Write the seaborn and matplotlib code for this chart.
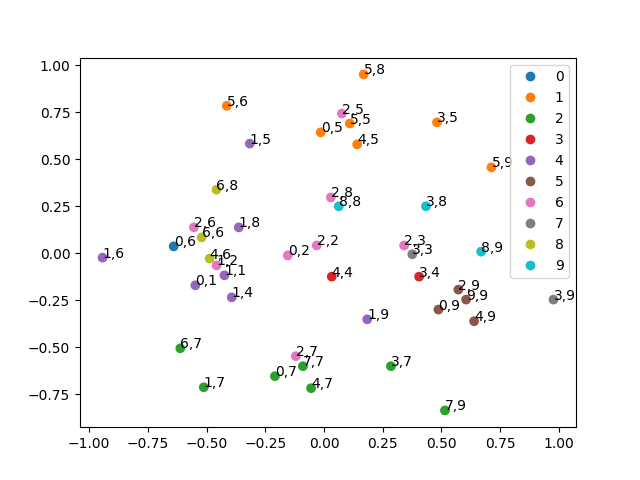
import matplotlib
matplotlib.use("Agg")
import matplotlib.pyplot as plt
import seaborn as sns
import pandas as pd

labels = ["5,8", "5,6", "2,5", "5,5", "0,5", "3,5", "4,5", "1,5", "5,9", "6,8",
          "2,8", "8,8", "3,8", "2,6", "1,8", "6,6", "0,6", "1,6", "2,2", "0,2",
          "2,3", "3,3", "8,9", "4,6", "1,2", "1,1", "4,4", "3,4", "0,1", "1,4",
          "2,9", "9,9", "3,9", "0,9", "4,9", "1,9", "6,7", "2,7", "7,7", "3,7",
          "0,7", "1,7", "4,7", "7,9"]
x_vals = [0.169, -0.414, 0.076, 0.110, -0.014, 0.481, 0.141, -0.316, 0.713, -0.458,
          0.029, 0.063, 0.434, -0.554, -0.363, -0.521, -0.640, -0.943, -0.031, -0.154,
          0.341, 0.376, 0.669, -0.487, -0.457, -0.424, 0.033, 0.405, -0.548, -0.393,
          0.572, 0.605, 0.977, 0.487, 0.639, 0.184, -0.612, -0.120, -0.090, 0.285,
          -0.209, -0.512, -0.055, 0.515]
y_vals = [0.951, 0.784, 0.743, 0.690, 0.643, 0.696, 0.579, 0.583, 0.457, 0.338,
          0.297, 0.250, 0.250, 0.138, 0.138, 0.085, 0.037, -0.023, 0.042, -0.011,
          0.042, -0.005, 0.009, -0.028, -0.064, -0.117, -0.124, -0.124, -0.170, -0.234,
          -0.193, -0.246, -0.246, -0.299, -0.361, -0.351, -0.505, -0.547, -0.600, -0.600,
          -0.653, -0.712, -0.717, -0.835]
groups = ["1", "1", "6", "1", "1", "1", "1", "4", "1", "8",
          "6", "9", "9", "6", "4", "8", "0", "4", "6", "6",
          "6", "7", "9", "8", "6", "4", "3", "3", "4", "4",
          "5", "5", "7", "5", "5", "4", "2", "6", "2", "2",
          "2", "2", "2", "2"]
group_order = [str(i) for i in range(10)]

df = pd.DataFrame({"x": x_vals, "y": y_vals, "g": groups, "label": labels})

fig, ax = plt.subplots(figsize=(6.4, 4.8), dpi=100)
sns.scatterplot(data=df, x="x", y="y", hue="g", hue_order=group_order,
                palette="tab10", s=36, edgecolor="face", linewidth=1.0, ax=ax)
for xv, yv, lb in zip(x_vals, y_vals, labels):
    ax.text(xv, yv, lb, fontsize=10)
ax.set_xlabel("")
ax.set_ylabel("")
ax.legend(loc="upper right", title=None)
fig.savefig("out.png", dpi=100)
